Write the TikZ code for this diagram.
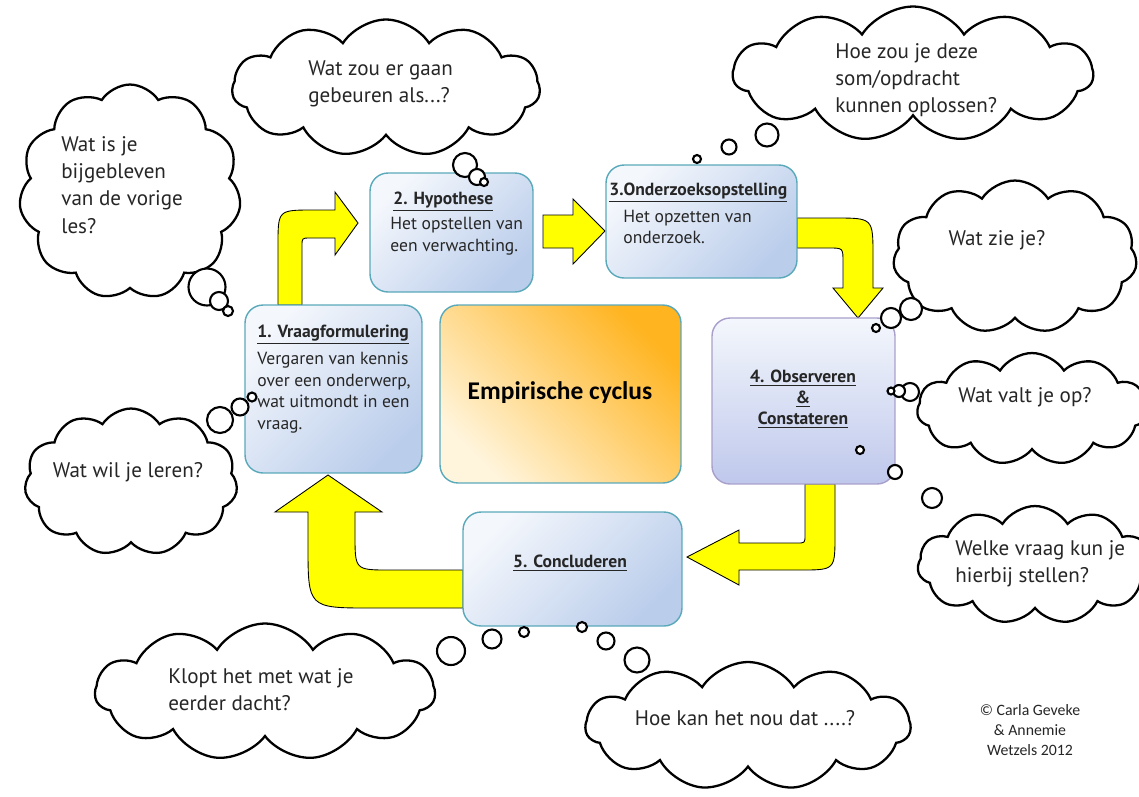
\documentclass[tikz,border=0pt]{standalone}
\usepackage{fontspec}
\setmainfont{PT Sans}
\newfontfamily\calfont{Carlito}
\usetikzlibrary{shapes.symbols,positioning,calc}

\definecolor{boxline}{HTML}{5AA9BA}
\definecolor{boxlight}{HTML}{F4F7FC}
\definecolor{boxdark}{HTML}{BACDEB}
\definecolor{obsline}{HTML}{A99FCB}
\definecolor{obsdark}{HTML}{BFC8EC}
\definecolor{mainlight}{HTML}{FFF5DD}
\definecolor{maindark}{HTML}{FFB420}
\definecolor{arrowyellow}{HTML}{FFFF00}
\definecolor{inktext}{HTML}{262626}

\begin{document}
\begin{tikzpicture}[x=0.02cm, y=-0.02cm,
    stepbox/.style={rectangle, draw=boxline, line width=0.8pt, rounded corners=0.36cm,
        top color=boxlight, bottom color=boxdark, shading angle=45},
    bigarrow/.style={fill=arrowyellow, draw=black, line width=0.5pt},
    thought/.style={cloud, draw, line width=1.3pt, fill=white, cloud puffs=11,
        cloud puff arc=115, cloud ignores aspect, inner sep=0pt},
    bubble/.style={circle, draw, line width=1.2pt, fill=white, inner sep=0pt, minimum size=#1},
    qtext/.style={font=\fontsize{12}{15.5}\selectfont, text=inktext, align=left, inner sep=0pt},
    titletext/.style={font=\fontsize{10}{12}\selectfont\bfseries, text=inktext, inner sep=0pt},
    bodytext/.style={font=\fontsize{10}{12.2}\selectfont, text=inktext, align=left, inner sep=0pt}]

    \useasboundingbox (0,0) rectangle (1139,796);

    % Arrows between the steps
    \path[bigarrow] (278,305) -- (278,245) .. controls (278,210) .. (313,210) -- (335,210)
        -- (335,192) -- (358,223) -- (335,255) -- (335,238) -- (310,238)
        .. controls (302,238) .. (302,246) -- (302,305) -- cycle;
    \path[bigarrow] (543,215) -- (573,215) -- (573,199) -- (605,231) -- (573,264)
        -- (573,248) -- (543,248) -- cycle;
    \path[bigarrow] (797,218) -- (835,218) .. controls (873,218) .. (873,256) -- (873,288)
        -- (883,288) -- (858,318) -- (833,288) -- (843,288) -- (843,262)
        .. controls (843,248) .. (829,248) -- (797,248) -- cycle;
    \path[bigarrow] (805,484) -- (805,535) .. controls (805,543) .. (797,543) -- (739,543)
        -- (739,530) -- (687,557) -- (739,585) -- (739,570) -- (800,570)
        .. controls (835,570) .. (835,535) -- (835,484) -- cycle;
    \path[bigarrow] (463,570) -- (390,570) .. controls (355,570) .. (355,535) -- (355,512)
        -- (382,512) -- (328,475) -- (275,512) -- (308,512) -- (308,545)
        .. controls (308,608) .. (371,608) -- (463,608) -- cycle;

    % Steps of the cycle
    \node[stepbox, minimum width=3.54cm, minimum height=3.36cm] (vraag) at (333.5,389) {};
    \node[stepbox, minimum width=3.26cm, minimum height=2.38cm] (hypo) at (451.5,232.5) {};
    \node[stepbox, minimum width=3.82cm, minimum height=2.26cm] (opzet) at (701.5,221.5) {};
    \node[stepbox, draw=obsline, bottom color=obsdark, minimum width=3.66cm, minimum height=3.32cm] (obs) at (803.5,401) {};
    \node[stepbox, minimum width=4.38cm, minimum height=2.28cm] (concl) at (572.5,569) {};
    \node[stepbox, top color=maindark, bottom color=mainlight, shading angle=-45,
        minimum width=4.82cm, minimum height=3.56cm] (cyclus) at (560.5,394) {};

    % Texts in the steps
    \node[titletext, anchor=west] (vraagkop) at (257,335) {\underline{1. Vraagformulering}};
    \node[bodytext, anchor=west] (vraagtxt) at (257,392.5) {Vergaren van kennis\\over een onderwerp,\\wat uitmondt in een\\vraag.};
    \node[titletext, anchor=west] (hypokop) at (393,202) {\underline{2. Hypothese}};
    \node[bodytext, anchor=west] (hypotxt) at (390,236) {Het opstellen van\\een verwachting.};
    \node[titletext, anchor=west] (opzetkop) at (609,193) {\underline{3.Onderzoeksopstelling}};
    \node[bodytext, anchor=west] (opzettxt) at (623,227) {Het opzetten van\\onderzoek.};
    \node[titletext, align=center, font=\fontsize{10}{11.9}\selectfont\bfseries] (obstxt) at (803,399)
        {\underline{4. Observeren}\\\underline{\&}\\\underline{Constateren}};
    \node[titletext] (concltxt) at (570,563) {\underline{5. Concluderen}};
    \node[font=\calfont\fontsize{14.5}{17}\selectfont\bfseries, text=black] (cyclustxt) at (560,393) {Empirische cyclus};

    % Thought clouds
    \node[thought, minimum width=6.16cm, minimum height=2.74cm] (wolkgaan) at (386,88) {};
    \node[thought, minimum width=4.44cm, minimum height=4.3cm] (wolkvorige) at (130,192) {};
    \node[thought, minimum width=7.2cm, minimum height=2.7cm] (wolkoplos) at (913,74) {};
    \node[thought, minimum width=4.88cm, minimum height=3.06cm] (wolkzie) at (1015,257) {};
    \node[thought, minimum width=4.6cm, minimum height=2.24cm] (wolkvalt) at (1032,409) {};
    \node[thought, minimum width=4.7cm, minimum height=2.36cm] (wolkvraag) at (1035,565) {};
    \node[thought, minimum width=4.26cm, minimum height=2.94cm] (wolkleren) at (131,482) {};
    \node[thought, minimum width=6.8cm, minimum height=2.74cm] (wolkklopt) at (265,692) {};
    \node[thought, minimum width=6.5cm, minimum height=2.56cm] (wolknou) at (748,726) {};

    \node[qtext, anchor=west] (qgaan) at (308,84) {Wat zou er gaan\\gebeuren als...?};
    \node[qtext, anchor=west] (qvorige) at (61,185) {Wat is je\\bijgebleven\\van de vorige\\les?};
    \node[qtext, anchor=west] (qoplos) at (835,80) {Hoe zou je deze\\som/opdracht\\kunnen oplossen?};
    \node[qtext] (qzie) at (997,240) {Wat zie je?};
    \node[qtext] (qvalt) at (1025,397) {Wat valt je op?};
    \node[qtext, anchor=west] (qvraag) at (955,564) {Welke vraag kun je\\hierbij stellen?};
    \node[qtext] (qleren) at (128,472) {Wat wil je leren?};
    \node[qtext, anchor=west] (qklopt) at (168,690) {Klopt het met wat je\\eerder dacht?};
    \node[qtext] (qnou) at (745,718) {Hoe kan het nou dat ....?};

    % Small bubbles
    \node[bubble=0.48cm] (bgaan1) at (465,165) {};
    \node[bubble=0.32cm] (bgaan2) at (477,177) {};
    \node[bubble=0.16cm] (bgaan3) at (484,182) {};
    \node[bubble=0.74cm] (bvorige1) at (207,287) {};
    \node[bubble=0.36cm] (bvorige2) at (219,301) {};
    \node[bubble=0.2cm] (bvorige3) at (228,311) {};
    \node[bubble=0.46cm] (boplos1) at (767,135) {};
    \node[bubble=0.3cm] (boplos2) at (729,147) {};
    \node[bubble=0.16cm] (boplos3) at (697,159) {};
    \node[bubble=0.44cm] (bzie1) at (911,309) {};
    \node[bubble=0.4cm] (bzie2) at (891,318) {};
    \node[bubble=0.16cm] (bzie3) at (876,328) {};
    \node[bubble=0.36cm] (bvalt1) at (910,392) {};
    \node[bubble=0.24cm] (bvalt2) at (899,391) {};
    \node[bubble=0.14cm] (bvalt3) at (891,391) {};
    \node[bubble=0.4cm] (bvraag1) at (932,498) {};
    \node[bubble=0.28cm] (bvraag2) at (895,472) {};
    \node[bubble=0.16cm] (bvraag3) at (860,450) {};
    \node[bubble=0.52cm] (bleren1) at (220,420) {};
    \node[bubble=0.34cm] (bleren2) at (240,407) {};
    \node[bubble=0.18cm] (bleren3) at (252,397) {};
    \node[bubble=0.56cm] (bklopt1) at (451,651) {};
    \node[bubble=0.38cm] (bklopt2) at (492,639) {};
    \node[bubble=0.2cm] (bklopt3) at (524,632) {};
    \node[bubble=0.2cm] (bnou1) at (582,627) {};
    \node[bubble=0.34cm] (bnou2) at (606,641) {};
    \node[bubble=0.5cm] (bnou3) at (637,660) {};

    % Credits
    \node[font=\calfont\fontsize{9}{11.3}\selectfont, text=inktext, align=center] (credit) at (1030,730)
        {© Carla Geveke\\\& Annemie\\Wetzels 2012};

\end{tikzpicture}
\end{document}
